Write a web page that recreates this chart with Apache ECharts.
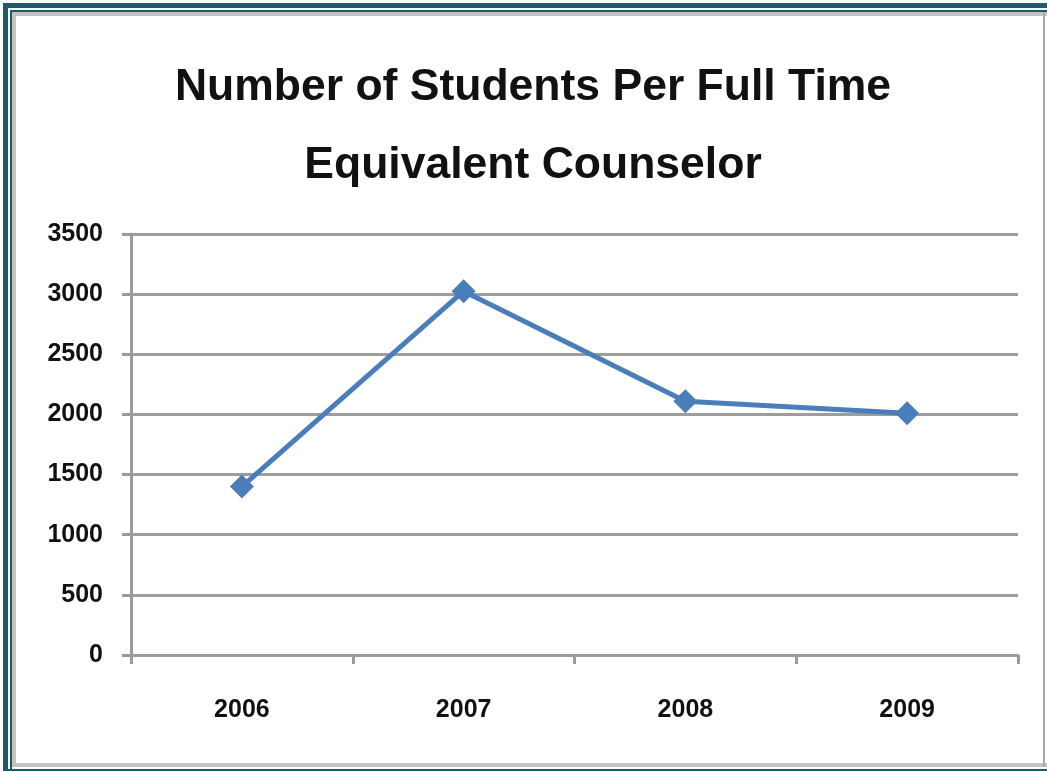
<!DOCTYPE html>
<html>
<head>
<meta charset="utf-8">
<script src="https://cdn.jsdelivr.net/npm/echarts@6/dist/echarts.min.js"></script>
<style>html,body{margin:0;padding:0;background:#fff;}#c{width:1047px;height:771px;}</style>
</head>
<body>
<div id="c"></div>
<script>
const titleText = "Number of Students Per Full Time\nEquivalent Counselor";
const categories = ["2006", "2007", "2008", "2009"];
const studentsPerCounselor = [1400, 3025, 2110, 2010];
const yTicks = { min: 0, max: 3500, interval: 500 };

const chart = echarts.init(document.getElementById('c'));
const teal = '#1d5a6a';
const frameGray = '#c3c3c3';
chart.setOption({
  animation: false,
  backgroundColor: '#ffffff',
  title: {
    text: titleText,
    left: 528,
    textAlign: 'center',
    top: 44,
    textStyle: {
      fontFamily: '"Liberation Sans", Arial, sans-serif',
      fontWeight: 'bold',
      fontSize: 44.5,
      lineHeight: 78,
      color: '#111111'
    }
  },
  graphic: [
    { type: 'rect', shape: { x: 3, y: 3, width: 5, height: 768 }, style: { fill: teal }, silent: true },
    { type: 'rect', shape: { x: 3, y: 3, width: 1044, height: 5 }, style: { fill: teal }, silent: true },
    { type: 'rect', shape: { x: 10, y: 10, width: 2, height: 761 }, style: { fill: teal }, silent: true },
    { type: 'rect', shape: { x: 10, y: 10, width: 1037, height: 2 }, style: { fill: teal }, silent: true },
    { type: 'rect', shape: { x: 12, y: 12, width: 4, height: 753 }, style: { fill: frameGray }, silent: true },
    { type: 'rect', shape: { x: 12, y: 12, width: 1035, height: 4 }, style: { fill: frameGray }, silent: true },
    { type: 'rect', shape: { x: 12, y: 763, width: 1035, height: 4 }, style: { fill: frameGray }, silent: true },
    { type: 'rect', shape: { x: 3, y: 769, width: 1044, height: 2 }, style: { fill: teal }, silent: true },
    { type: 'rect', shape: { x: 1043, y: 12, width: 2, height: 755 }, style: { fill: '#a8a8a8' }, silent: true }
  ],
  grid: { left: 131, right: 29, top: 234, bottom: 116, containLabel: false },
  xAxis: {
    type: 'category',
    data: categories,
    boundaryGap: true,
    axisLine: { lineStyle: { color: '#9a9a9a', width: 3 } },
    axisTick: { show: true, length: 9, lineStyle: { color: '#9a9a9a', width: 3 } },
    axisLabel: {
      margin: 43,
      fontFamily: '"Liberation Sans", Arial, sans-serif',
      fontWeight: 'bold',
      fontSize: 25,
      color: '#111111'
    }
  },
  yAxis: {
    type: 'value',
    min: yTicks.min,
    max: yTicks.max,
    interval: yTicks.interval,
    axisLine: { show: true, lineStyle: { color: '#9a9a9a', width: 3 } },
    axisTick: { show: true, length: 9, lineStyle: { color: '#9a9a9a', width: 3 } },
    splitLine: { lineStyle: { color: '#9d9d9d', width: 3 } },
    axisLabel: {
      margin: 28,
      formatter: function (v) { return String(v); },
      fontFamily: '"Liberation Sans", Arial, sans-serif',
      fontWeight: 'bold',
      fontSize: 25,
      color: '#111111'
    }
  },
  series: [{
    type: 'line',
    data: studentsPerCounselor,
    symbol: 'diamond',
    symbolSize: 24,
    lineStyle: { color: '#4a7ebb', width: 5 },
    itemStyle: { color: '#4a7ebb' }
  }]
});
</script>
</body>
</html>
